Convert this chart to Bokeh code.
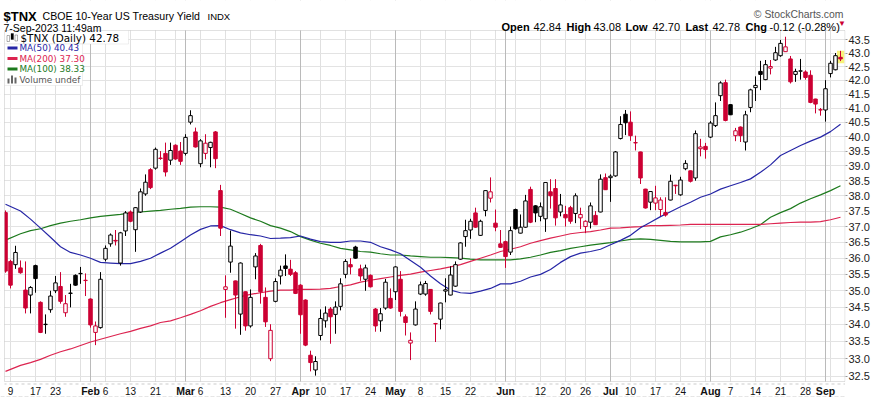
import numpy as np
import pandas as pd
from bokeh.plotting import figure
from bokeh.models import (Range1d, FixedTicker, PrintfTickFormatter, Grid, Label,
                          ColumnDataSource, BoxAnnotation)
from bokeh.embed import file_html
from bokeh.resources import INLINE

# ---------------- data ----------------
holidays = ["2023-01-16", "2023-02-20", "2023-04-07", "2023-05-29",
            "2023-06-19", "2023-07-04", "2023-09-04"]
first_day, last_day = "2023-01-06", "2023-09-07"
prev_close_start = 37.20

opens = [37.45, 35.90, 35.80, 35.70, 35.02, 34.87, 35.77, 34.65, 33.99, 34.43,
         35.00, 35.13, 34.34, 34.92, 35.47, 35.52, 35.32, 34.75, 33.76, 33.90,
         35.97, 36.45, 36.56, 35.85, 36.86, 37.47, 36.90, 37.47, 38.06, 38.87,
         38.92, 39.26, 39.42, 39.19, 39.70, 39.50, 39.42, 40.50, 40.16, 39.07,
         39.42, 39.62, 40.16, 38.17, 35.04, 35.88, 35.30, 34.30, 34.97, 33.95,
         35.73, 36.40, 34.80, 33.00, 34.68, 35.45, 35.76, 35.66, 35.55, 35.17,
         34.72, 33.10, 32.68, 33.67, 34.10, 34.45, 34.29, 34.53, 35.50, 35.80,
         36.35, 35.67, 35.35, 35.47, 34.45, 34.10, 34.48, 34.77, 34.97, 35.35,
         34.22, 33.45, 33.98, 34.90, 34.90, 35.04, 34.02, 34.15, 34.99, 34.87,
         35.14, 35.97, 36.68, 36.89, 37.44, 36.72, 37.52, 37.92, 37.11, 36.45,
         36.52, 36.19, 37.55, 36.79, 36.98, 38.21, 37.67, 37.33, 37.25, 38.13,
         38.24, 37.47, 37.39, 37.61, 37.42, 37.28, 37.00, 37.14, 37.36, 37.47,
         38.60, 38.60, 38.66, 39.93, 40.78, 40.50, 39.79, 39.47, 38.22, 37.79,
         37.76, 37.55, 37.45, 37.86, 38.35, 38.03, 38.90, 38.83, 38.59, 39.58,
         39.66, 39.98, 40.38, 41.44, 41.91, 41.12, 40.03, 40.33, 39.81, 41.02,
         41.73, 42.32, 42.02, 42.44, 42.74, 42.90, 43.05, 42.78, 42.21, 42.33,
         42.30, 42.18, 41.32, 40.94, 40.93, 42.24, 42.38, 42.84]
highs = [37.52, 35.95, 36.39, 35.93, 35.90, 35.14, 35.80, 34.68, 34.29, 35.00,
         35.45, 35.57, 34.87, 35.21, 35.50, 35.73, 35.53, 34.77, 34.08, 35.57,
         36.40, 36.78, 36.89, 36.83, 37.50, 37.52, 37.63, 38.24, 38.71, 38.92,
         39.62, 39.50, 39.79, 39.79, 39.73, 39.81, 40.08, 40.92, 40.31, 39.91,
         40.08, 39.82, 40.19, 38.36, 35.47, 36.87, 35.31, 35.87, 34.98, 35.04,
         36.16, 36.45, 35.10, 34.00, 35.38, 35.77, 36.12, 35.95, 35.60, 35.20,
         34.74, 33.23, 33.07, 34.44, 34.53, 34.51, 34.68, 35.38, 35.97, 36.00,
         36.39, 35.80, 35.80, 35.50, 34.48, 34.48, 35.36, 35.07, 35.75, 35.60,
         34.29, 33.76, 34.68, 35.28, 35.30, 35.05, 34.04, 34.64, 35.38, 35.75,
         35.90, 36.50, 37.22, 37.25, 37.61, 37.22, 38.19, 38.61, 37.55, 36.89,
         36.55, 37.00, 37.58, 37.39, 38.03, 38.30, 37.69, 37.78, 38.45, 38.55,
         38.55, 38.06, 37.67, 37.67, 38.08, 37.61, 37.20, 37.78, 37.50, 38.71,
         38.74, 38.71, 39.50, 40.71, 40.93, 40.88, 40.03, 39.48, 38.23, 38.15,
         38.33, 37.95, 37.95, 38.70, 38.36, 38.63, 39.19, 38.84, 40.21, 39.92,
         39.78, 40.54, 41.20, 41.96, 42.02, 41.13, 40.30, 40.35, 40.90, 41.69,
         42.14, 42.71, 42.74, 42.74, 43.23, 43.49, 43.61, 42.89, 42.42, 42.78,
         42.36, 42.36, 41.33, 41.00, 42.00, 42.71, 43.00, 43.08]
lows = [35.55, 35.07, 35.67, 35.52, 34.32, 34.32, 34.94, 33.74, 33.72, 34.34,
        34.93, 34.61, 34.22, 34.50, 35.15, 35.21, 34.84, 33.90, 33.39, 33.87,
        35.90, 36.36, 36.40, 35.77, 36.70, 37.14, 36.20, 37.44, 38.00, 38.22,
        38.87, 39.20, 38.64, 39.03, 39.20, 39.03, 39.35, 40.42, 39.62, 38.95,
        39.22, 38.95, 38.92, 36.70, 34.19, 35.55, 33.87, 33.69, 33.81, 33.90,
        35.35, 34.61, 33.92, 32.93, 34.65, 35.19, 35.45, 35.45, 34.90, 33.72,
        33.36, 32.64, 32.52, 33.53, 33.90, 33.43, 33.72, 34.41, 35.38, 35.50,
        35.98, 35.30, 35.00, 35.10, 33.78, 33.78, 34.43, 34.46, 34.72, 34.23,
        33.67, 32.96, 33.96, 34.87, 34.85, 34.29, 33.48, 33.85, 34.65, 34.86,
        35.12, 35.95, 36.36, 36.61, 36.96, 36.70, 37.33, 37.78, 36.85, 36.33,
        35.70, 36.10, 36.90, 36.78, 36.96, 37.11, 37.14, 37.17, 36.83, 37.58,
        37.03, 37.33, 37.00, 37.09, 37.11, 36.92, 36.79, 36.94, 37.05, 37.46,
        38.19, 37.80, 38.63, 39.90, 40.05, 39.85, 39.52, 38.39, 37.58, 37.53,
        37.53, 37.34, 37.32, 37.85, 38.06, 38.00, 38.85, 38.44, 38.50, 39.32,
        39.24, 39.95, 40.33, 41.25, 40.53, 40.75, 39.84, 39.81, 39.52, 40.85,
        41.25, 41.64, 42.00, 42.21, 42.71, 42.86, 43.04, 41.88, 41.94, 42.02,
        42.02, 41.17, 40.81, 40.73, 40.52, 42.10, 42.36, 42.70]
closes = [35.60, 35.17, 36.18, 35.55, 34.48, 35.10, 35.37, 33.76, 34.00, 34.84,
          35.24, 34.68, 34.61, 34.93, 35.17, 35.53, 35.31, 33.98, 33.95, 35.35,
          36.31, 36.73, 36.54, 36.80, 37.44, 37.17, 37.61, 38.13, 38.45, 38.27,
          39.56, 39.25, 38.79, 39.52, 39.23, 39.15, 39.97, 40.73, 39.64, 39.85,
          39.77, 39.80, 39.24, 36.95, 35.12, 36.38, 34.87, 35.85, 33.95, 34.80,
          36.07, 34.97, 34.07, 33.82, 35.28, 35.63, 35.68, 35.50, 34.92, 34.28,
          33.39, 32.89, 32.92, 34.17, 34.33, 34.22, 34.51, 35.21, 35.90, 35.73,
          36.00, 35.45, 35.70, 35.12, 33.95, 34.31, 35.26, 34.48, 35.73, 34.38,
          34.05, 33.53, 34.45, 35.18, 35.22, 34.38, 34.01, 34.63, 35.03, 35.48,
          35.80, 36.48, 36.87, 37.17, 36.98, 37.17, 38.17, 38.13, 36.98, 36.34,
          36.05, 36.87, 36.93, 36.98, 37.83, 37.14, 37.44, 37.64, 38.44, 38.00,
          37.28, 37.70, 37.28, 37.17, 38.00, 37.39, 37.17, 37.67, 37.06, 38.55,
          38.20, 38.65, 39.47, 40.42, 40.48, 40.03, 39.78, 38.59, 37.60, 38.14,
          37.93, 37.86, 37.37, 38.48, 38.33, 38.52, 39.08, 38.48, 40.10, 39.64,
          39.55, 40.47, 40.73, 41.90, 40.56, 40.76, 40.20, 40.03, 40.76, 41.65,
          41.81, 42.21, 42.57, 42.50, 43.01, 43.36, 43.23, 41.94, 42.32, 42.34,
          42.10, 41.20, 41.14, 40.93, 41.69, 42.62, 42.90, 42.78]

# moving-average readings, at trading-day positions ma_pos
ma_pos = [0] + list(range(3, 168, 2))
ma50 = [37.72, 37.50, 37.24, 36.95, 36.66, 36.36, 36.18, 36.10, 36.00, 35.87,
        35.85, 35.83, 35.83, 35.90, 36.00, 36.16, 36.31, 36.52, 36.73, 36.91,
        37.02, 37.03, 36.90, 36.80, 36.74, 36.70, 36.62, 36.63, 36.65, 36.70,
        36.60, 36.52, 36.50, 36.50, 36.54, 36.54, 36.50, 36.36, 36.26, 36.14,
        35.93, 35.72, 35.45, 35.21, 35.02, 34.94, 34.92, 34.99, 35.07, 35.21,
        35.21, 35.29, 35.42, 35.50, 35.65, 35.87, 36.05, 36.16, 36.21, 36.28,
        36.42, 36.56, 36.72, 36.96, 37.14, 37.32, 37.48, 37.64, 37.79, 37.95,
        38.06, 38.22, 38.33, 38.44, 38.56, 38.78, 39.03, 39.35, 39.52, 39.69,
        39.84, 39.98, 40.17, 40.43]
ma100 = [36.57, 36.77, 36.87, 36.93, 37.03, 37.11, 37.17, 37.22, 37.28, 37.33,
         37.36, 37.39, 37.44, 37.47, 37.50, 37.52, 37.56, 37.59, 37.63, 37.64,
         37.64, 37.63, 37.56, 37.42, 37.28, 37.17, 37.03, 36.95, 36.84, 36.68,
         36.57, 36.47, 36.40, 36.31, 36.26, 36.21, 36.19, 36.14, 36.10, 36.10,
         36.07, 36.05, 36.03, 36.03, 36.02, 36.00, 35.97, 35.95, 35.95, 35.95,
         35.95, 35.98, 36.03, 36.10, 36.18, 36.24, 36.31, 36.36, 36.41, 36.45,
         36.49, 36.54, 36.59, 36.61, 36.59, 36.56, 36.53, 36.51, 36.51, 36.51,
         36.53, 36.67, 36.74, 36.82, 36.93, 37.06, 37.30, 37.45, 37.58, 37.76,
         37.90, 38.03, 38.17, 38.33]
ma200 = [32.64, 32.81, 32.89, 32.98, 33.10, 33.20, 33.28, 33.38, 33.48, 33.56,
         33.64, 33.72, 33.79, 33.88, 33.95, 34.05, 34.10, 34.19, 34.29, 34.40,
         34.53, 34.64, 34.73, 34.82, 34.89, 34.94, 34.99, 35.02, 35.02, 35.04,
         35.04, 35.05, 35.07, 35.13, 35.18, 35.26, 35.32, 35.37, 35.42, 35.47,
         35.51, 35.57, 35.62, 35.67, 35.73, 35.80, 35.90, 36.00, 36.10, 36.21,
         36.28, 36.36, 36.47, 36.55, 36.63, 36.70, 36.77, 36.81, 36.84, 36.89,
         36.95, 36.96, 36.98, 37.00, 37.03, 37.03, 37.04, 37.05, 37.07, 37.07,
         37.07, 37.07, 37.07, 37.07, 37.07, 37.07, 37.09, 37.11, 37.13, 37.14,
         37.14, 37.16, 37.22, 37.30]

y_ticks = [32.5, 33.0, 33.5, 34.0, 34.5, 35.0, 35.5, 36.0, 36.5, 37.0, 37.5,
           38.0, 38.5, 39.0, 39.5, 40.0, 40.5, 41.0, 41.5, 42.0, 42.5, 43.0, 43.5]

# ---------------- derived ----------------
dates = pd.bdate_range(first_day, last_day)
dates = dates[~dates.isin(pd.to_datetime(holidays))]
n = len(dates)
kx = np.arange(n)
o = np.array(opens); h = np.array(highs); l = np.array(lows); c = np.array(closes)
prev = np.concatenate([[prev_close_start], c[:-1]])

RED = "#cc0033"
BLACK = "#000000"
colors = [RED if c[i] < prev[i] else BLACK for i in range(n)]
fills = [colors[i] if c[i] < o[i] else "white" for i in range(n)]

week_ticks, month_ticks = [], []
for i in range(1, n):
    if dates[i].isocalendar()[1] != dates[i - 1].isocalendar()[1]:
        week_ticks.append(i)
    if dates[i].month != dates[i - 1].month:
        month_ticks.append(i)
week_labels = []
for w in week_ticks:
    if w in month_ticks or any(abs(w - m) <= 2 for m in month_ticks):
        continue
    week_labels.append((w, str(dates[w].day)))
month_labels = [(m, dates[m].strftime("%b")) for m in month_ticks]

# ---------------- figure ----------------
# The frame covers the whole canvas except the right-hand price axis;
# screen units below are page pixels (x from left, y from bottom).
W, H = 874, 397
BR = 29
p = figure(width=W, height=H,
           x_range=Range1d(-1.0, 168.0), y_range=Range1d(31.91, 45.0),
           y_axis_type="log", y_axis_location="right",
           output_backend="svg", toolbar_location=None,
           min_border_left=0, min_border_top=0, min_border_bottom=0, min_border_right=BR)
p.outline_line_color = None
p.background_fill_color = "white"
p.border_fill_color = "white"
p.xaxis.visible = False

yax = p.yaxis[0]
yax.ticker = FixedTicker(ticks=y_ticks, minor_ticks=[])
yax.formatter = PrintfTickFormatter(format="%.1f")
yax.axis_line_color = None
yax.major_tick_line_color = "#9a9a9a"
yax.major_tick_out = 2
yax.major_tick_in = 0
yax.minor_tick_line_color = None
yax.major_label_standoff = 1
yax.major_label_text_font = "Liberation Sans"
yax.major_label_text_font_size = "11px"
yax.major_label_text_color = "#222222"

p.ygrid.ticker = FixedTicker(ticks=y_ticks)
p.ygrid.grid_line_color = "#e3e3e3"
p.xgrid.ticker = FixedTicker(ticks=week_ticks)
p.xgrid.grid_line_color = "#e0e0e0"
p.add_layout(Grid(dimension=0, ticker=FixedTicker(ticks=month_ticks),
                  grid_line_color="#bababa"))

# last-bar highlight
p.quad(left=[kx[-1] - 0.7], right=[kx[-1] + 0.75], top=[h[-1]],
       bottom=[l[-1] - 0.08], fill_color="#f8f27a", line_color=None)

# moving averages
p.line(ma_pos, ma100, line_color="#1d7a1d", line_width=1.2)
p.line(ma_pos, ma200, line_color="#dc2450", line_width=1.2)
p.line(ma_pos, ma50, line_color="#2626a6", line_width=1.2)

# candles
src = ColumnDataSource(dict(x=kx, o=o, h=h, l=l, c=c,
                            top=np.maximum(o, c), bot=np.minimum(o, c),
                            col=colors, fill=fills))
p.segment(x0="x", y0="h", x1="x", y1="l", line_color="col", line_width=1, source=src)
p.vbar(x="x", width=0.7, top="top", bottom="bot", fill_color="fill",
       line_color="col", line_width=1, source=src)


def sbox(left, right, top, bottom, fill=None, line=None, dash="solid", lw=1):
    p.add_layout(BoxAnnotation(left=left, right=right, top=H - top, bottom=H - bottom,
                               left_units="screen", right_units="screen",
                               top_units="screen", bottom_units="screen",
                               fill_color=fill, fill_alpha=1.0 if fill else 0.0,
                               line_color=line, line_width=lw, line_dash=dash))


CL, CR, CT, CB = 4, 844.5, 30, 381  # price-panel border (page px)
FR = W - BR
# white page areas around the price panel
sbox(0, FR, 0, CT, "white")
sbox(0, FR, CB, H, "white")
sbox(0, CL, CT, CB, "white")
# panel border and the dotted rules below it
sbox(CL, CR, CT, CB, None, "#9a9a9a")
sbox(CL, CR, 383.5, 383.5, None, "#a8a8a8", "dotted", 2)
sbox(0, FR, 396, 396, None, "#a8a8a8", "dotted", 1)

# legend boxes and icons (page px, y from top)
sbox(CL, 128, CT, 43.5, "white", "#c9c9c9")
sbox(CL, 82, 43.5, 85, "white", "#c9c9c9")
sbox(6.5, 9, 35, 41, "white", "#000000")
sbox(10.5, 13, 33, 39, "#000000", "#000000")
sbox(14.5, 17, 34.5, 40.5, "white", "#000000")
sbox(7, 17, 46, 49, "#2626a6")
sbox(7, 17, 56.5, 59.5, "#dc2450")
sbox(7, 17, 67, 70, "#1d7a1d")
sbox(7, 9, 78, 83, "#666666")
sbox(10.5, 12.5, 75, 83, "#666666")
sbox(14, 16, 77, 83, "#666666")


def lab(x, ytop, text, size, color="#000000", font="Liberation Sans", style="normal",
        align="left", baseline="alphabetic", xunits="screen"):
    p.add_layout(Label(x=x, y=H - ytop, x_units=xunits, y_units="screen", text=text,
                       text_font=font, text_font_size=size, text_color=color,
                       text_font_style=style, text_align=align, text_baseline=baseline))


DV = "DejaVu Sans"
lab(20, 37.5, "$TNX (Daily) %.2f" % c[-1], "10.4px", font=DV, baseline="middle")
lab(19, 47.5, "MA(50) %.2f" % ma50[-1], "8.8px", "#2626a6", DV, baseline="middle")
lab(19, 58, "MA(200) %.2f" % ma200[-1], "8.8px", "#dc2450", DV, baseline="middle")
lab(19, 68.5, "MA(100) %.2f" % ma100[-1], "8.8px", "#1d7a1d", DV, baseline="middle")
lab(19, 79, "Volume undef", "8.8px", "#555555", DV, baseline="middle")

# x tick labels
for x, t in week_labels:
    lab(x, 390, t, "10px", "#111111", align="center", baseline="middle", xunits="data")
for x, t in month_labels:
    lab(x, 390, t, "10.5px", "#111111", style="bold", align="center", baseline="middle",
        xunits="data")

# header
lab(3, 15.5, "$TNX", "13px", style="bold")
lab(42, 15.5, "CBOE 10-Year US Treasury Yield", "10.6px")
lab(207, 15.5, "INDX", "9.5px")
lab(3, 27, "7-Sep-2023 11:49am", "10.5px")
lab(843, 14, "\u00a9 StockCharts.com", "10.4px", "#555555", align="right")

chg = c[-1] - c[-2]
pieces = [(501, "Open", "bold"), (533, "%.2f" % o[-1], "normal"),
          (566, "High", "bold"), (593, "%.2f" % h[-1], "normal"),
          (625, "Low", "bold"), (652, "%.2f" % l[-1], "normal"),
          (685, "Last", "bold"), (712, "%.2f" % c[-1], "normal"),
          (745, "Chg", "bold"),
          (769, "%.2f (%.2f%%)" % (chg, chg / c[-2] * 100), "normal")]
for x, t, st in pieces:
    lab(x, 26, t, "11px", style=st)
lab(841.5, 23, "\u25bc", "8px", RED, align="center", baseline="middle")

open("out.html", "w").write(file_html(p, INLINE))
